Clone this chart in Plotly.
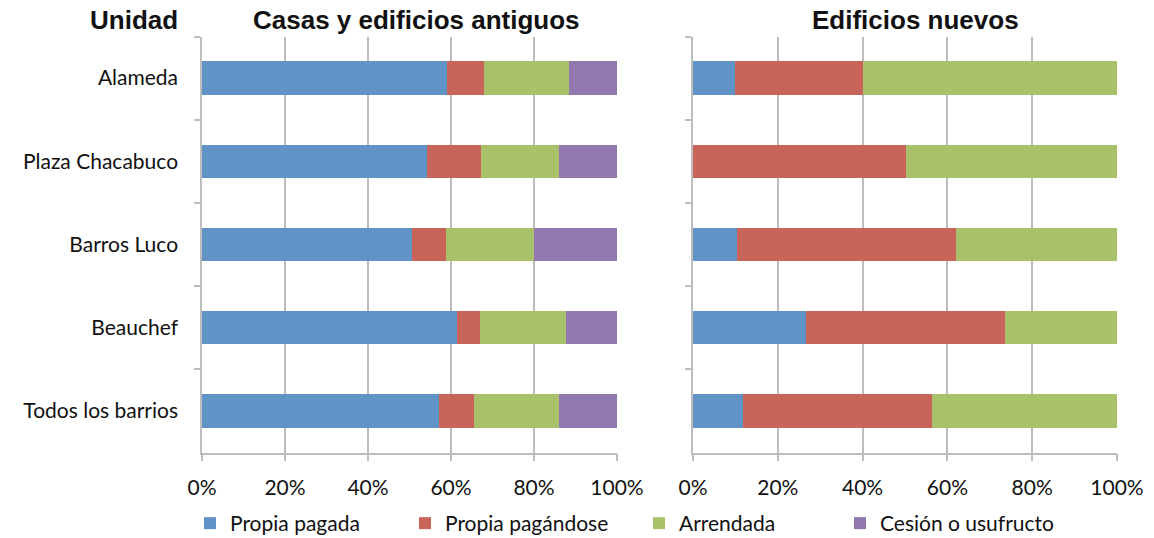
import plotly.graph_objects as go

categories = ["Alameda", "Plaza Chacabuco", "Barros Luco", "Beauchef", "Todos los barrios"]
series_names = ["Propia pagada", "Propia pagándose", "Arrendada", "Cesión o usufructo"]

# Casas y edificios antiguos (%)
old_pagada = [59.0, 54.1, 50.5, 61.4, 57.1]
old_pagandose = [9.0, 13.2, 8.3, 5.5, 8.4]
old_arrendada = [20.5, 18.7, 21.3, 20.9, 20.5]
old_cesion = [11.5, 14.0, 19.9, 12.2, 14.0]

# Edificios nuevos (%)
new_pagada = [10.0, 0.0, 10.3, 26.6, 11.9]
new_pagandose = [30.0, 50.2, 51.8, 46.9, 44.5]
new_arrendada = [60.0, 49.8, 37.9, 26.5, 43.6]
new_cesion = [0.0, 0.0, 0.0, 0.0, 0.0]

x_ticks = [0, 20, 40, 60, 80, 100]
x_tick_labels = ["0%", "20%", "40%", "60%", "80%", "100%"]
titles = ["Unidad", "Casas y edificios antiguos", "Edificios nuevos"]

colors = ["#6193C6", "#C9645B", "#AAC16B", "#9179AF"]
font_body = "Lato"

# figure is a bit taller than the 538px view; the extra strip is clipped
W, H = 1154, 556
legend_ids = ["legend", "legend2", "legend3", "legend4"]
legend_x = [190, 405, 639, 840]

fig = go.Figure()
old_vals = [old_pagada, old_pagandose, old_arrendada, old_cesion]
new_vals = [new_pagada, new_pagandose, new_arrendada, new_cesion]
for name, vals, col, lg in zip(series_names, old_vals, colors, legend_ids):
    fig.add_trace(go.Bar(y=categories, x=vals, orientation="h", name=name,
                         marker=dict(color=col, line=dict(width=0)),
                         xaxis="x", yaxis="y", legendgroup=name, showlegend=True,
                         legend=lg))
for name, vals, col in zip(series_names, new_vals, colors):
    if sum(vals) == 0:
        continue
    fig.add_trace(go.Bar(y=categories, x=vals, orientation="h", name=name,
                         marker=dict(color=col, line=dict(width=0)),
                         xaxis="x2", yaxis="y2", legendgroup=name, showlegend=False))

ydom = [1 - 452.5 / H, 1 - 36.5 / H]
grid_col = "#BDBDBD"

xcommon = dict(range=[0, 100], tickvals=x_ticks, ticktext=x_tick_labels, showgrid=True,
               gridcolor=grid_col, gridwidth=1.5, showline=True, linecolor=grid_col,
               linewidth=1.5, ticks="outside", ticklen=7, tickcolor=grid_col,
               tickwidth=1.5, zeroline=False, automargin=False, ticklabelstandoff=9,
               tickfont=dict(family=font_body, size=21, color="#111111"),
               fixedrange=True)
ycommon = dict(autorange="reversed", showgrid=False, showline=True, linecolor=grid_col,
               linewidth=1.5, ticks="outside", ticklen=6, tickcolor=grid_col,
               tickwidth=1.5, tickson="boundaries", automargin=False,
               tickfont=dict(family=font_body, size=21, color="#111111"),
               fixedrange=True)

legend_common = dict(orientation="h", xanchor="left", y=1 - 503 / H, yanchor="top",
                     font=dict(family=font_body, size=21, color="#111111"),
                     itemwidth=30, bgcolor="rgba(0,0,0,0)", borderwidth=0)
legends = {lg: dict(x=lx / W, **legend_common) for lg, lx in zip(legend_ids, legend_x)}

fig.update_layout(
    width=W, height=H,
    margin=dict(l=0, r=0, t=0, b=0),
    paper_bgcolor="white", plot_bgcolor="white",
    barmode="stack", bargap=0.6,
    xaxis=dict(domain=[202 / W, 617 / W], anchor="y", **xcommon),
    yaxis=dict(domain=ydom, anchor="x", ticklabelstandoff=18, **ycommon),
    xaxis2=dict(domain=[693 / W, 1117 / W], anchor="y2", **xcommon),
    yaxis2=dict(domain=ydom, anchor="x2", showticklabels=False, **ycommon),
    showlegend=True,
    **legends,
)

title_font = dict(family="Liberation Sans", size=26, color="#111111")
for txt, xc in zip(titles, [134, 416, 915]):
    fig.add_annotation(text="<b>%s</b>" % txt, x=xc / W, y=1 - 20 / H, xref="paper",
                       yref="paper", xanchor="center", yanchor="middle",
                       showarrow=False, font=title_font)

fig.write_html(
    "out.html", config={"displayModeBar": False},
    post_script=("document.body.style.margin='0';"
                 "document.body.style.overflow='hidden';"
                 "document.documentElement.style.overflow='hidden';"))
